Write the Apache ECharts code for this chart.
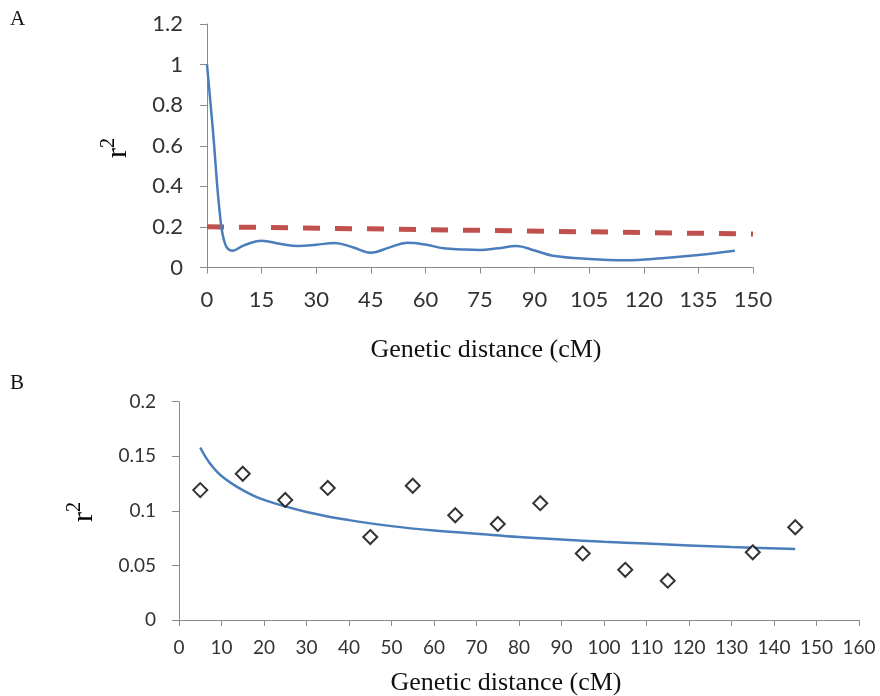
<!DOCTYPE html>
<html>
<head>
<meta charset="utf-8">
<script src="https://cdn.jsdelivr.net/npm/echarts@6/dist/echarts.min.js"></script>
<style>
html,body{margin:0;padding:0;background:#fff;}
#chart{width:880px;height:696px;}
</style>
</head>
<body>
<div id="chart"></div>
<script>
// ---- Data ----
// Panel A: smoothed decay line as drawn (distance in cM, r^2)
const lineADist = [0, 1.7, 3.5, 5, 7, 10, 15, 20, 25, 30, 35, 40, 45, 50, 55, 60, 65, 70, 75, 80, 85, 90, 95, 105, 115, 125, 135, 145];
const lineAR2   = [1.0, 0.66, 0.27, 0.115, 0.083, 0.108, 0.132, 0.117, 0.106, 0.112, 0.121, 0.100, 0.073, 0.098, 0.122, 0.113, 0.095, 0.089, 0.086, 0.095, 0.106, 0.084, 0.058, 0.042, 0.036, 0.046, 0.062, 0.083];
// Panel A: threshold line (dashed red)
const thrDist = [0, 150];
const thrR2   = [0.201, 0.165];
// Panel B: mean r^2 per distance bin (diamonds)
const binDist = [5, 15, 25, 35, 45, 55, 65, 75, 85, 95, 105, 115, 135, 145];
const binR2   = [0.119, 0.134, 0.110, 0.121, 0.076, 0.123, 0.096, 0.088, 0.107, 0.061, 0.046, 0.036, 0.062, 0.085];
// Panel B: fitted decay curve
const fitDist = [5, 7, 10, 15, 20, 30, 40, 50, 60, 70, 80, 90, 100, 110, 120, 130, 145];
const fitR2   = [0.158, 0.145, 0.132, 0.119, 0.110, 0.099, 0.0915, 0.086, 0.082, 0.079, 0.076, 0.0737, 0.0717, 0.070, 0.0683, 0.0668, 0.065];
// Axis ticks
const axA_x = {min: 0, max: 150, interval: 15};
const axA_y = {min: 0, max: 1.2, interval: 0.2};
const axB_x = {min: 0, max: 160, interval: 10};
const axB_y = {min: 0, max: 0.2, interval: 0.05};
const xTitle = 'Genetic distance (cM)';

const pairs = (xs, ys) => xs.map((x, i) => [x, ys[i]]);

const axisGray = '#8a8a8a';
const labelColor = '#333333';
const serif = "'Liberation Serif', 'Times New Roman', serif";
const sans = "Lato, 'Noto Sans', sans-serif";

function mkX(gi, ax, fs, margin) {
  return {
    type: 'value', gridIndex: gi, min: ax.min, max: ax.max, interval: ax.interval,
    axisLine: {show: true, lineStyle: {color: axisGray, width: 1}},
    axisTick: {show: true, length: 6, lineStyle: {color: axisGray}},
    splitLine: {show: false},
    axisLabel: {fontFamily: sans, fontSize: fs, color: labelColor, margin: margin, showMinLabel: true, showMaxLabel: true}
  };
}
function mkY(gi, ax, fs, margin) {
  return {
    type: 'value', gridIndex: gi, min: ax.min, max: ax.max, interval: ax.interval,
    axisLine: {show: true, lineStyle: {color: axisGray, width: 1}},
    axisTick: {show: true, length: 7, lineStyle: {color: axisGray}},
    splitLine: {show: false},
    axisLabel: {fontFamily: sans, fontSize: fs, color: labelColor, margin: margin, showMinLabel: true, showMaxLabel: true}
  };
}

const r2Rich = {
  r: {fontFamily: serif, fontSize: 30, color: '#111', lineHeight: 34, verticalAlign: 'bottom'},
  s: {fontFamily: serif, fontSize: 20, color: '#111', lineHeight: 34, verticalAlign: 'top'}
};

const chart = echarts.init(document.getElementById('chart'), null, {renderer: 'canvas'});
chart.setOption({
  animation: false,
  backgroundColor: '#ffffff',
  grid: [
    {left: 207, top: 24, width: 546, height: 243.5},
    {left: 179, top: 401.7, width: 680, height: 218.3}
  ],
  xAxis: [mkX(0, axA_x, 22, 21), mkX(1, axB_x, 19, 18)],
  yAxis: [mkY(0, axA_y, 22, 24), mkY(1, axB_y, 19, 23)],
  graphic: [
    {type: 'text', left: 10, top: 9, style: {text: 'A', font: '21px ' + serif, fill: '#111'}},
    {type: 'text', left: 10, top: 373, style: {text: 'B', font: '21px ' + serif, fill: '#111'}},
    {type: 'text', x: 486, y: 350, style: {text: xTitle, font: '26px ' + serif, fill: '#111', align: 'center', verticalAlign: 'middle'}},
    {type: 'text', x: 506, y: 683, style: {text: xTitle, font: '26px ' + serif, fill: '#111', align: 'center', verticalAlign: 'middle'}},
    {type: 'text', x: 116, y: 148, rotation: Math.PI / 2, style: {text: '{r|r}{s|2}', rich: r2Rich, align: 'center', verticalAlign: 'middle'}},
    {type: 'text', x: 82, y: 512, rotation: Math.PI / 2, style: {text: '{r|r}{s|2}', rich: r2Rich, align: 'center', verticalAlign: 'middle'}}
  ],
  series: [
    {
      type: 'line', xAxisIndex: 0, yAxisIndex: 0, data: pairs(thrDist, thrR2),
      symbol: 'none', lineStyle: {color: '#C0504D', width: 5, type: [17, 15], cap: 'butt'}, z: 2
    },
    {
      type: 'line', xAxisIndex: 0, yAxisIndex: 0, data: pairs(lineADist, lineAR2),
      symbol: 'none', smooth: 0.4, lineStyle: {color: '#4A7EBB', width: 2.5}, z: 3
    },
    {
      type: 'line', xAxisIndex: 1, yAxisIndex: 1, data: pairs(fitDist, fitR2),
      symbol: 'none', smooth: 0.4, lineStyle: {color: '#4A7EBB', width: 2.5}, z: 2
    },
    {
      type: 'scatter', xAxisIndex: 1, yAxisIndex: 1, data: pairs(binDist, binR2),
      symbol: 'diamond', symbolSize: 14,
      itemStyle: {color: '#ffffff', borderColor: '#000000', borderWidth: 2}, z: 3
    }
  ]
});
</script>
</body>
</html>
